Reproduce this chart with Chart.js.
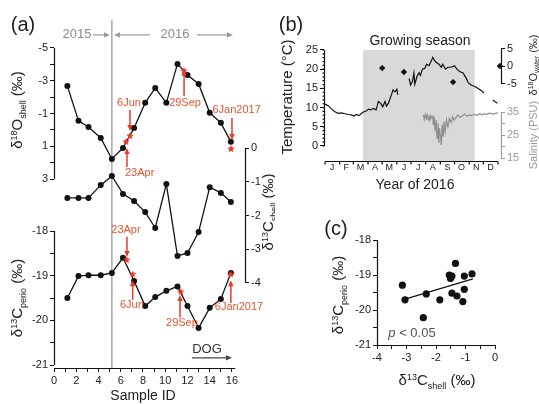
<!DOCTYPE html>
<html>
<head>
<meta charset="utf-8">
<script src="https://cdn.jsdelivr.net/npm/chart.js@4.4.1/dist/chart.umd.min.js"></script>
<style>
  html, body { margin: 0; padding: 0; background: #fff; }
  #wrap { position: relative; width: 539px; height: 404px; overflow: hidden; }
  canvas { position: absolute; }
</style>
</head>
<body>
<div id="wrap">
  <canvas id="chartA" width="275" height="404" style="left:0;top:0"></canvas>
  <canvas id="chartB" width="269" height="200" style="left:270px;top:0"></canvas>
  <canvas id="chartC" width="239" height="204" style="left:300px;top:200px"></canvas>
</div>
<script>
// ---- panel (a): isotope profiles along the shell ----
const sampleIds = [1.2, 2.2, 3.1, 4.2, 5.2, 6.2, 7.2, 8.2, 9.1, 10.1, 11.1, 12.0, 13.0, 14.0, 15.0, 15.9];
const d18OShell = [-2.68, -0.55, -0.18, 0.49, 1.77, 1.10, -0.12, -1.65, -2.56, -1.65, -4.02, -3.35, -2.80, -1.04, -0.43, 0.73];
const d13CShell = [-1.48, -1.48, -1.48, -1.10, -0.83, -1.36, -1.57, -1.90, -2.37, -1.07, -3.20, -3.11, -2.49, -1.16, -1.33, -1.60];
const d13CPerio = [-19.50, -19.01, -18.99, -18.99, -18.94, -18.60, -19.12, -19.68, -19.48, -19.34, -19.24, -19.68, -20.17, -19.72, -19.52, -18.94];
const yearSplitId = 5.2;
const o18StarIds = [6.47, 6.83, 11.69, 15.91];
const o18StarVals = [0.73, 0.37, -3.60, 1.16];
const perioStarIds = [6.53, 7.07, 11.39, 15.88];
const perioStarVals = [-18.65, -18.97, -19.36, -18.97];
const sampleLabels = [0, 2, 4, 6, 8, 10, 12, 14, 16];
const o18Labels = [-5, -3, -1, 1, 3];
const perioLabels = [-18, -19, -20, -21];
const shellLabels = [0, -1, -2, -3, -4];

// ---- panel (b): 2016 temperature, salinity, water d18O ----
const tempDays = [0, 7, 14, 21, 28, 35, 42, 49, 56, 61, 66, 72, 80, 87, 92, 97, 102, 108, 113, 118,
  122, 127, 130, 134, 139, 144, 148, 152, 154, 165, 178, 181, 185, 188, 190, 195, 199, 202, 206, 211,
  215, 220, 225, 228, 232, 235, 241, 246, 249, 255, 260, 267, 274, 279, 285, 292, 299, 303, 310, 317,
  324, 331, 336, 345, 355, 365];
const tempVals = [10.9, 10.5, 9.6, 8.9, 8.5, 8.6, 8.4, 8.2, 8.1, 7.8, 8.2, 7.9, 8.8, 9.1, 9.6, 9.4, 9.8, 9.4, 11.6, 11.1,
  10.2, 11.6, 10.4, 11.1, 12.8, 14.6, 14.1, 14.8, 13.3, null, 17.6, 15.9, 16.8, 19.0, 16.1, 18.2, 19.1, 18.4, 20.0, 20.2,
  21.3, 20.9, 22.2, 23.1, 22.2, 21.8, 21.3, 20.5, 21.3, 20.0, 20.5, 20.5, 20.9, 20.0, 19.4, 19.0, 17.6, 16.5, 15.8, 15.5,
  15.0, 14.4, 13.8, null, 12.0, 11.1];
const salDays = [208, 210, 212, 214, 216, 218, 220, 222, 224, 226, 228, 229, 231, 233, 235, 237, 239, 241, 242, 244,
  246, 248, 250, 252, 254, 257, 260, 263, 267, 270, 273, 276, 281, 285, 288, 292, 295, 300, 305, 310,
  316, 322, 327, 332, 337, 342, 348, 355, 362, 366];
const salVals = [33.8, 31.8, 33.9, 32.2, 33.8, 31.7, 33.6, 31.5, 33.4, 32.5, 33.0, 29.4, 33.0, 26.5, 31.5, 23.6, 30.1, 21.5, 28.0, 25.0,
  20.7, 29.4, 24.3, 30.8, 26.5, 31.5, 28.6, 32.2, 30.4, 33.0, 31.5, 32.2, 33.7, 32.8, 33.0, 33.5, 34.0, 33.2, 33.7, 33.4,
  34.0, 33.6, 34.3, 33.8, 34.3, 34.0, 34.5, 34.1, 34.5, 34.5];
const waterDays = [121, 167, 271, 370];
const waterVals = [-0.6, -1.7, -4.6, 0.0];
const growingSeason = [80, 317];
const monthNames = ['J', 'F', 'M', 'A', 'M', 'J', 'J', 'A', 'S', 'O', 'N', 'D'];
const monthStarts = [0, 31, 60, 91, 121, 152, 182, 213, 244, 274, 305, 335, 366];
const tempLabels = [0, 5, 10, 15, 20, 25];
const waterLabels = [-5, 0, 5];
const salLabels = [15, 25, 35];

// ---- panel (c): d13C perio vs d13C shell ----
const scatterShell = [-3.14, -3.05, -2.43, -2.33, -1.87, -1.55, -1.51, -1.46, -1.34, -1.46, -1.29, -1.04, -1.04, -1.09, -0.78, -1.50];
const scatterPerio = [-19.29, -19.71, -20.22, -19.54, -19.71, -19.00, -19.10, -19.03, -18.67, -19.52, -19.60, -19.03, -19.41, -19.76, -18.97, -19.06];
const fitShell = [-3.05, -0.75];
const fitPerio = [-19.69, -19.11];

const FONT = '"Liberation Sans", Arial, Helvetica, sans-serif';
const RED = '#e53a2c';
const RED_TXT = '#e2552f';
Chart.defaults.font.family = FONT;
Chart.defaults.color = '#222';

// axes take no room: chart area comes from layout padding only
function noFit(s) {
  if (s.isHorizontal()) s.height = 0; else s.width = 0;
  s.paddingLeft = s.paddingRight = s.paddingTop = s.paddingBottom = 0;
}
// ...but give them room again after layout so their labels are not clipped away
const widenAxes = {
  id: 'widenAxes',
  afterLayout(chart) {
    Object.values(chart.scales).forEach(s => {
      if (s.position === 'left') s.left = s.right - 90;
      else if (s.position === 'right') s.right = s.left + 90;
      else if (s.position === 'bottom') s.bottom = s.top + 40;
    });
  }
};
function steps(a, b, st) {
  const out = [];
  for (let v = a; v <= b + 1e-9; v += st) out.push(Math.round(v * 100) / 100);
  return out;
}
function axis(pos, min, max, tickVals, labelVals, color = '#111', labColor = '#222', reverse = false) {
  return {
    type: 'linear', position: pos, min, max, reverse,
    afterFit: noFit,
    afterBuildTicks: s => { s.ticks = tickVals.map(v => ({ value: v })); },
    border: { display: false },
    grid: { drawOnChartArea: false, drawTicks: true, tickLength: 4, color },
    ticks: {
      autoSkip: false, maxRotation: 0, padding: 2, color: labColor, font: { size: 11 },
      callback: v => labelVals.some(l => Math.abs(l - v) < 1e-6) ? String(v) : ''
    }
  };
}
function pts(xs, ys) { return xs.map((x, i) => ({ x, y: ys[i] })); }

// axis line drawn only over [from, to], with optional short extra ticks
function spine(chart, id, from, to, color, minor, minorLen) {
  const s = chart.scales[id], ctx = chart.ctx, area = chart.chartArea;
  ctx.save();
  ctx.strokeStyle = color; ctx.lineWidth = 1.2;
  ctx.beginPath();
  if (s.isHorizontal()) {
    const y = Math.round(area.bottom) + 0.5;
    ctx.moveTo(s.getPixelForValue(from), y); ctx.lineTo(s.getPixelForValue(to), y);
    (minor || []).forEach(v => { const x = s.getPixelForValue(v); ctx.moveTo(x, y); ctx.lineTo(x, y + minorLen); });
  } else {
    const left = s.position === 'left';
    const x = Math.round(left ? area.left : area.right) + 0.5;
    ctx.moveTo(x, s.getPixelForValue(from)); ctx.lineTo(x, s.getPixelForValue(to));
    (minor || []).forEach(v => { const y = s.getPixelForValue(v); ctx.moveTo(x, y); ctx.lineTo(left ? x - minorLen : x + minorLen, y); });
  }
  ctx.stroke();
  ctx.restore();
}

function arrow(ctx, x1, y1, x2, y2, color, w, head) {
  const a = Math.atan2(y2 - y1, x2 - x1);
  ctx.save();
  ctx.strokeStyle = color; ctx.fillStyle = color; ctx.lineWidth = w;
  ctx.beginPath(); ctx.moveTo(x1, y1);
  ctx.lineTo(x2 - Math.cos(a) * head * 0.8, y2 - Math.sin(a) * head * 0.8); ctx.stroke();
  ctx.beginPath(); ctx.moveTo(x2, y2);
  ctx.lineTo(x2 - head * Math.cos(a) + head * 0.45 * Math.sin(a), y2 - head * Math.sin(a) - head * 0.45 * Math.cos(a));
  ctx.lineTo(x2 - head * Math.cos(a) - head * 0.45 * Math.sin(a), y2 - head * Math.sin(a) + head * 0.45 * Math.cos(a));
  ctx.closePath(); ctx.fill();
  ctx.restore();
}

function text(ctx, s, x, y, size, color, align = 'center') {
  ctx.save();
  ctx.font = size + 'px ' + FONT; ctx.fillStyle = color;
  ctx.textAlign = align; ctx.textBaseline = 'middle';
  ctx.fillText(s, x, y);
  ctx.restore();
}

// parts: [text, 'sup' | 'sub' | 'i' | undefined]
function rich(ctx, parts, x, y, size, color, rot) {
  ctx.save();
  ctx.translate(x, y);
  if (rot) ctx.rotate(-Math.PI / 2);
  ctx.fillStyle = color; ctx.textBaseline = 'alphabetic'; ctx.textAlign = 'left';
  const fontOf = p => (p[1] === 'i' ? 'italic ' : '') + (p[1] === 'sup' || p[1] === 'sub' ? Math.round(size * 0.62) : size) + 'px ' + FONT;
  let w = 0;
  parts.forEach(p => { ctx.font = fontOf(p); w += ctx.measureText(p[0]).width; });
  let cx = -w / 2;
  parts.forEach(p => {
    ctx.font = fontOf(p);
    const dy = p[1] === 'sup' ? -size * 0.38 : p[1] === 'sub' ? size * 0.24 : 0;
    ctx.fillText(p[0], cx, size * 0.35 + dy);
    cx += ctx.measureText(p[0]).width;
  });
  ctx.restore();
}
const iso = (mass, el, sub) => [['δ'], [mass, 'sup'], [el], [sub, 'sub'], [' (‰)']];

function makeStar(r, color) {
  const c = document.createElement('canvas');
  const s = Math.ceil(r * 2) + 2;
  c.width = c.height = s;
  const g = c.getContext('2d');
  g.fillStyle = color; g.beginPath();
  for (let i = 0; i < 10; i++) {
    const rr = i % 2 ? r * 0.45 : r, a = -Math.PI / 2 + i * Math.PI / 5;
    g.lineTo(s / 2 + rr * Math.cos(a), s / 2 + rr * Math.sin(a));
  }
  g.closePath(); g.fill();
  return c;
}
const star = makeStar(4, RED);

const baseOpts = {
  responsive: false, animation: false, devicePixelRatio: 1, events: [],
  plugins: { legend: { display: false }, tooltip: { enabled: false } }
};

// ================= panel (a) =================
// annotation arrows: [axis, sample id, from value, to value]
const redArrowsA = [
  ['yO', 6.83, -1.22, 0.06], ['yO', 6.56, 2.26, 1.10], ['yO', 11.69, -2.07, -3.66], ['yO', 16.0, -0.73, 0.61],
  ['yP', 6.56, -18.13, -18.58], ['yP', 7.07, -19.54, -19.10], ['yP', 11.33, -19.93, -19.43], ['yP', 15.9, -19.61, -19.10]
];
const redLabelsA = [
  ['yO', 6.74, -1.65, '6Jun', 'center'], ['yO', 6.38, 2.62, '23Apr', 'left'], ['yO', 11.78, -1.65, '29Sep', 'center'],
  ['yO', 16.42, -1.22, '6Jan2017', 'center'], ['yP', 6.47, -17.98, '23Apr', 'center'], ['yP', 7.0, -19.66, '6Jun', 'center'],
  ['yP', 11.5, -20.06, '29Sep', 'center'], ['yP', 16.63, -19.70, '6Jan2017', 'center']
];

const lineDs = (data, axisId) => ({
  type: 'line', data, yAxisID: axisId, borderColor: '#111', borderWidth: 1.3,
  pointRadius: 3, pointBackgroundColor: '#111', pointBorderWidth: 0, order: 1
});
const starDs = (data, axisId) => ({
  type: 'scatter', data, yAxisID: axisId, pointStyle: star, pointRadius: 4, showLine: false, order: 0
});

new Chart(document.getElementById('chartA'), {
  type: 'line',
  data: {
    datasets: [
      lineDs(pts(sampleIds, d18OShell), 'yO'),
      lineDs(pts(sampleIds, d13CShell), 'yS'),
      lineDs(pts(sampleIds, d13CPerio), 'yP'),
      starDs(pts(o18StarIds, o18StarVals), 'yO'),
      starDs(pts(perioStarIds, perioStarVals), 'yP')
    ]
  },
  options: {
    ...baseOpts,
    layout: { autoPadding: false, padding: { left: 54, right: 30, top: 20, bottom: 36 } },
    scales: {
      x: axis('bottom', 0, 17.17, steps(0, 16, 1), sampleLabels),
      yO: axis('left', -6.697, 14.51, steps(-5, 3, 1), o18Labels, '#111', '#222', true),
      yP: axis('left', -21.067, -13.276, steps(-21, -18, 0.5), perioLabels),
      yS: axis('right', -6.519, 3.793, steps(-4, 0, 1), shellLabels)
    }
  },
  plugins: [widenAxes, {
    id: 'panelA',
    beforeDatasetsDraw(chart) {
      const ctx = chart.ctx, a = chart.chartArea;
      const xs = chart.scales.x.getPixelForValue(yearSplitId);
      ctx.save(); ctx.strokeStyle = '#a8a8a8'; ctx.lineWidth = 1.5;
      ctx.beginPath(); ctx.moveTo(xs, a.top); ctx.lineTo(xs, a.bottom); ctx.stroke(); ctx.restore();
    },
    afterDraw(chart) {
      const ctx = chart.ctx, x = chart.scales.x, sc = chart.scales;
      spine(chart, 'x', 0, 16.3, '#111');
      spine(chart, 'yO', -5, 3, '#111');
      spine(chart, 'yP', -18, -21, '#111');
      spine(chart, 'yS', 0, -4, '#111');
      redArrowsA.forEach(([ax, id, v1, v2]) => {
        const px = x.getPixelForValue(id);
        arrow(ctx, px, sc[ax].getPixelForValue(v1), px, sc[ax].getPixelForValue(v2), RED, 1.5, 6);
      });
      redLabelsA.forEach(([ax, id, v, s, al]) => text(ctx, s, x.getPixelForValue(id), sc[ax].getPixelForValue(v), 11, RED_TXT, al));
      // year header
      const hy = sc.yO.getPixelForValue(-5.79);
      text(ctx, '2015', x.getPixelForValue(2.07), hy, 13, '#8c8c8c');
      text(ctx, '2016', x.getPixelForValue(10.88), hy, 13, '#8c8c8c');
      arrow(ctx, x.getPixelForValue(3.5), hy, x.getPixelForValue(5.03), hy, '#9a9a9a', 1.2, 6);
      arrow(ctx, x.getPixelForValue(8.63), hy, x.getPixelForValue(5.39), hy, '#9a9a9a', 1.2, 6);
      arrow(ctx, x.getPixelForValue(12.85), hy, x.getPixelForValue(16.09), hy, '#9a9a9a', 1.2, 6);
      // direction of growth
      text(ctx, 'DOG', x.getPixelForValue(13.75), sc.yP.getPixelForValue(-20.64), 13, '#333');
      const dy = sc.yP.getPixelForValue(-20.84);
      arrow(ctx, x.getPixelForValue(12.4), dy, x.getPixelForValue(16.0), dy, '#444', 1.3, 6);
      // titles
      text(ctx, '(a)', 23, 25, 20, '#222');
      rich(ctx, iso('18', 'O', 'shell'), 17, 110, 15, '#222', true);
      rich(ctx, iso('13', 'C', 'perio'), 17, 298, 15, '#222', true);
      rich(ctx, iso('13', 'C', 'shell'), 268, 212, 15, '#222', true);
      text(ctx, 'Sample ID', 143, 396, 14, '#222');
    }
  }]
});

// ================= panel (b) =================
const xB = axis('bottom', -2.1, 372.3, [15, 45, 75, 106, 136, 167, 197, 228, 259, 289, 320, 350], []);
xB.grid = { display: false, drawTicks: false };
xB.ticks = { autoSkip: false, maxRotation: 0, padding: 1, font: { size: 9 }, color: '#222', callback: (v, i) => monthNames[i] };

new Chart(document.getElementById('chartB'), {
  type: 'line',
  data: {
    datasets: [
      { data: [{ x: growingSeason[0], y: 25 }, { x: growingSeason[1], y: 25 }], yAxisID: 'yT',
        fill: 'start', backgroundColor: '#d9d9d9', borderWidth: 0, pointRadius: 0, order: 10 },
      { data: pts(tempDays, tempVals), yAxisID: 'yT', borderColor: '#111', borderWidth: 1.2,
        pointRadius: 0, spanGaps: false, order: 1 },
      { data: pts(salDays, salVals), yAxisID: 'yS', borderColor: '#8f8f8f', borderWidth: 1.2,
        pointRadius: 0, order: 2 },
      { type: 'scatter', data: pts(waterDays, waterVals), yAxisID: 'yW', pointStyle: 'rectRot',
        pointRadius: 3.2, pointBackgroundColor: '#111', pointBorderWidth: 0, clip: false, order: 0 }
    ]
  },
  options: {
    ...baseOpts,
    layout: { autoPadding: false, padding: { left: 54, right: 38, top: 44, bottom: 39 } },
    scales: {
      x: xB,
      yT: axis('left', -3.91, 26.56, tempLabels, tempLabels),
      yW: axis('right', -27.14, 6.29, waterLabels, waterLabels),
      yS: axis('right', 13.70, 64.57, [15, 20, 25, 30, 35], salLabels, '#9a9a9a', '#9a9a9a')
    }
  },
  plugins: [widenAxes, {
    id: 'panelB',
    afterDraw(chart) {
      const ctx = chart.ctx;
      spine(chart, 'x', 0, 366, '#111', monthStarts, 3);
      spine(chart, 'yT', 0, 25, '#111', steps(0, 25, 1), 2);
      spine(chart, 'yW', -5, 5, '#111');
      spine(chart, 'yS', 15, 35, '#9a9a9a');
      text(ctx, '(b)', 21, 25, 20, '#222');
      text(ctx, 'Growing season', 150, 41, 14, '#222');
      text(ctx, 'Year of 2016', 145, 185, 14, '#222');
      rich(ctx, [['Temperature (°C)']], 17, 97, 15, '#222', true);
      rich(ctx, iso('18', 'O', 'water'), 263, 65, 11, '#222', true);
      rich(ctx, [['Salinity (PSU)']], 263, 135, 11, '#9a9a9a', true);
    }
  }]
});

// ================= panel (c) =================
new Chart(document.getElementById('chartC'), {
  type: 'scatter',
  data: {
    datasets: [
      { data: pts(scatterShell, scatterPerio), pointRadius: 3.6, pointBackgroundColor: '#111', pointBorderWidth: 0 },
      { type: 'line', data: pts(fitShell, fitPerio), borderColor: '#111', borderWidth: 1.2, pointRadius: 0 }
    ]
  },
  options: {
    ...baseOpts,
    layout: { autoPadding: false, padding: { left: 77, right: 44, top: 40, bottom: 59 } },
    scales: {
      x: axis('bottom', -4, 0, steps(-4, 0, 0.5), [-4, -3, -2, -1, 0]),
      y: axis('left', -21, -18, steps(-21, -18, 0.5), [-21, -20, -19, -18])
    }
  },
  plugins: [widenAxes, {
    id: 'panelC',
    afterDraw(chart) {
      const ctx = chart.ctx;
      spine(chart, 'x', -4, 0, '#111');
      spine(chart, 'y', -21, -18, '#111');
      text(ctx, '(c)', 36, 29, 20, '#222');
      rich(ctx, [['p', 'i'], [' < 0.05']], 112, 132, 13, '#555', false);
      rich(ctx, iso('13', 'C', 'perio'), 38, 95, 15, '#222', true);
      rich(ctx, iso('13', 'C', 'shell'), 137, 180, 15, '#222', false);
    }
  }]
});
</script>
</body>
</html>
